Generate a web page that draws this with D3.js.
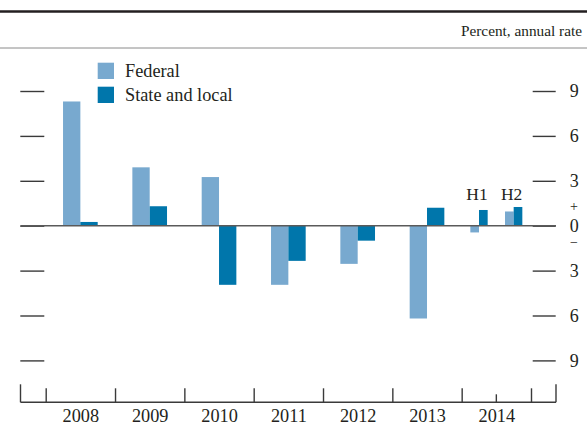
<!DOCTYPE html>
<html lang="en">
<head>
    <meta charset="UTF-8">
    <title>Federal and state and local purchases</title>
    <script src="https://d3js.org/d3.v7.min.js"></script>
    <style>
        body { margin: 0; background: #fff; }
        svg text { font-family: "Liberation Serif", "Times New Roman", serif; fill: #231f20; }
        .axis .domain { display: none; }
    </style>
</head>
<body>
    <div id="chart"></div>
    <script>
        // Data
        const periods = ["2008", "2009", "2010", "2011", "2012", "2013", "H1", "H2"];
        const periodStart = [2008, 2009, 2010, 2011, 2012, 2013, 2014, 2014.5];
        const periodSpan = [1, 1, 1, 1, 1, 1, 0.5, 0.5];
        const federal = [8.3, 3.9, 3.25, -3.95, -2.55, -6.2, -0.45, 0.95];
        const stateLocal = [0.25, 1.3, -3.95, -2.35, -1.0, 1.2, 1.05, 1.25];
        const years = [2008, 2009, 2010, 2011, 2012, 2013, 2014];
        const yTicks = [-9, -6, -3, 0, 3, 6, 9];
        const series = ["Federal", "State and local"];
        const colors = ["#78a9cf", "#0076ab"];

        const W = 587, H = 426;
        const svg = d3.select("#chart").append("svg")
            .attr("width", W).attr("height", H);

        const x = d3.scaleLinear().domain([2008, 2015]).range([45.7, 531]);
        const y = d3.scaleLinear().domain([-9, 9]).range([360.4, 91]);

        // top rules and unit label
        svg.append("line").attr("x1", 0).attr("x2", W).attr("y1", 11.5).attr("y2", 11.5)
            .attr("stroke", "#231f20").attr("stroke-width", 2.5);
        svg.append("line").attr("x1", 0).attr("x2", W).attr("y1", 48).attr("y2", 48)
            .attr("stroke", "#8a8a8a").attr("stroke-width", 1);
        svg.append("text").attr("x", 582).attr("y", 36).attr("text-anchor", "end")
            .style("font-size", "15.3px").text("Percent, annual rate");

        // left ticks
        svg.append("g").attr("class", "axis")
            .attr("transform", "translate(44.3,0)")
            .call(d3.axisLeft(y).tickValues(yTicks).tickSize(24).tickFormat(""))
            .selectAll("line").attr("stroke", "#3a3a3a").attr("stroke-width", 1.4);

        // right ticks with labels
        const right = svg.append("g").attr("class", "axis")
            .attr("transform", "translate(532.7,0)")
            .call(d3.axisRight(y).tickValues(yTicks).tickSize(23).tickPadding(14)
                .tickFormat(d => Math.abs(d)));
        right.selectAll("line").attr("stroke", "#3a3a3a").attr("stroke-width", 1.4);
        right.selectAll("text").style("font-size", "18px").attr("fill", "#231f20");

        // sign hints around zero
        svg.append("text").attr("x", 574).attr("y", y(1.3)).attr("dy", "0.35em")
            .attr("text-anchor", "middle").style("font-size", "14px").text("+");
        svg.append("text").attr("x", 574).attr("y", y(-1.1)).attr("dy", "0.35em")
            .attr("text-anchor", "middle").style("font-size", "14px").text("\u2212");

        // bars
        const bars = svg.append("g");
        periods.forEach((p, i) => {
            const x0 = x(periodStart[i]);
            const span = x(periodStart[i] + periodSpan[i]) - x0;
            const bw = span * 0.25;
            const mid = x0 + span / 2;
            [federal[i], stateLocal[i]].forEach((v, k) => {
                bars.append("rect")
                    .attr("x", mid - bw + k * bw)
                    .attr("width", bw)
                    .attr("y", Math.min(y(v), y(0)))
                    .attr("height", Math.abs(y(v) - y(0)))
                    .attr("fill", colors[k]);
            });
            // half-year labels
            if (periodSpan[i] < 1) {
                svg.append("text").attr("x", mid - 2).attr("y", 200)
                    .attr("text-anchor", "middle").style("font-size", "17.5px").text(p);
            }
        });

        // zero line
        svg.append("line").attr("x1", 20.5).attr("x2", 556).attr("y1", y(0)).attr("y2", y(0))
            .attr("stroke", "#5a5a5a").attr("stroke-width", 1.6);

        // legend
        const lg = svg.append("g");
        series.forEach((s, i) => {
            lg.append("rect").attr("x", 97.7).attr("y", 62.7 + i * 24)
                .attr("width", 16.3).attr("height", 16.3).attr("fill", colors[i]);
            lg.append("text").attr("x", 125).attr("y", 76.5 + i * 24)
                .style("font-size", "18.3px").text(s);
        });

        // bottom axis
        const axisY = 402.3;
        svg.append("line").attr("x1", 20.5).attr("x2", 556).attr("y1", axisY).attr("y2", axisY)
            .attr("stroke", "#3a3a3a").attr("stroke-width", 1.4);
        const bottom = svg.append("g").attr("class", "axis")
            .attr("transform", `translate(0,${axisY})`)
            .call(d3.axisBottom(x).tickValues(d3.range(2008, 2016)).tickSize(-14).tickFormat(""));
        bottom.selectAll("line").attr("stroke", "#3a3a3a").attr("stroke-width", 1.4);
        // edge ticks and the half-year tick
        [[20.5, 18], [556, 18], [x(2014.5), 8]].forEach(([tx, len]) => {
            svg.append("line").attr("x1", tx).attr("x2", tx)
                .attr("y1", axisY).attr("y2", axisY - len)
                .attr("stroke", "#3a3a3a").attr("stroke-width", 1.4);
        });
        const labels = svg.append("g").attr("class", "axis")
            .attr("transform", `translate(0,${axisY})`)
            .call(d3.axisBottom(x).tickValues(years.map(d => d + 0.5)).tickSize(0).tickPadding(7)
                .tickFormat(d => Math.floor(d)));
        labels.selectAll("text").style("font-size", "18.3px").attr("fill", "#231f20");
    </script>
</body>
</html>
